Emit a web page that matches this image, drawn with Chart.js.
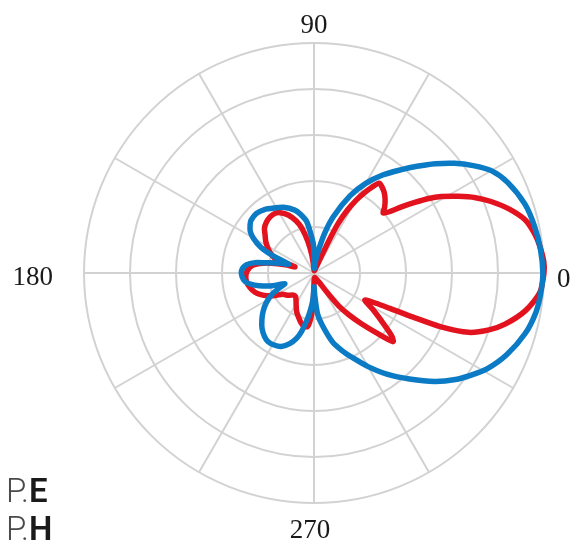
<!DOCTYPE html>
<html><head><meta charset="utf-8">
<script src="https://cdn.jsdelivr.net/npm/chart.js@4"></script>
<style>html,body{margin:0;padding:0;background:#fff;} canvas{display:block}</style>
</head><body>
<canvas id="c" width="571" height="545"></canvas>
<script>
// ---- data (angle in degrees, counter-clockwise from the right; radius 0..1) ----
const seriesLabels = ['P.E', 'P.H'];
const axisTickAngles = [0, 90, 180, 270];
const axisTickLabels = ['0', '90', '180', '270'];

const redAngles = [0,3,7,10,14,18,22,25,28,31,33,35,37,39,41,43,46,49,52,54,56,58,60,62,64,65,66,68,75,85,
  93,97,101,105,109,114,119,123,128,133,138,142,147,152,157,160,162,
  164,167,170,173,178,183,188,193,198,202,206,210,214,218,222,225,
  228,232,236,241,246,251,255,259,263,265,267,269,271,
  280,292,300,304,307,310,313,316,319,321,324,328,332,334,335,336,337,339,342,345,350,355];
const redValues = [1.0,1.0,0.988,0.975,0.948,0.895,0.83,0.775,0.71,0.645,0.595,0.535,0.48,0.425,0.398,0.42,0.445,0.465,0.478,0.483,0.45,0.41,0.365,0.31,0.24,0.17,0.09,0.04,0.015,0.01,
  0.03,0.08,0.14,0.2,0.24,0.276,0.3,0.31,0.31,0.303,0.29,0.27,0.25,0.226,0.2,0.172,0.087,
  0.13,0.19,0.24,0.27,0.29,0.297,0.295,0.285,0.27,0.25,0.225,0.195,0.165,0.155,0.145,0.135,
  0.13,0.13,0.14,0.16,0.185,0.205,0.222,0.235,0.235,0.215,0.17,0.09,0.03,
  0.02,0.03,0.05,0.1,0.18,0.24,0.3,0.37,0.455,0.435,0.372,0.304,0.25,0.3,0.364,0.472,0.596,0.72,0.8,0.86,0.935,0.985];

const blueAngles = [0,6,12,18,25,30,34,38,42,46,50,55,60,65,71,75,79,83,87,
  90,91,94,98,103,107,115,121,128,134,140,143,147,150,154,157,159,161,
  163,165,168,170,173,178,183,187,190,193,197,200,
  203,207,212,217,222,227,232,236,241,246,251,255,258,262,265,268,270,
  272,275,279,285,290,295,300,306,312,318,323,327,331,337,344,350,355];
const blueValues = [0.995,0.99,0.98,0.965,0.93,0.89,0.835,0.775,0.71,0.645,0.585,0.52,0.45,0.37,0.26,0.18,0.1,0.05,0.02,
  0.05,0.12,0.16,0.225,0.262,0.286,0.315,0.33,0.35,0.36,0.357,0.348,0.33,0.305,0.26,0.2,0.14,0.115,
  0.14,0.17,0.215,0.26,0.295,0.315,0.313,0.302,0.28,0.245,0.19,0.135,
  0.16,0.205,0.245,0.277,0.305,0.331,0.35,0.359,0.358,0.35,0.325,0.294,0.26,0.2,0.155,0.11,0.06,
  0.1,0.18,0.23,0.31,0.36,0.41,0.47,0.545,0.62,0.705,0.77,0.815,0.86,0.91,0.955,0.98,0.99];

// ---- build radar table: label index i sits at angle (360 - i) % 360 ----
const angleLabels = Array.from({length: 360}, (_, i) => String((360 - i) % 360));
function toRadarData(angles, values) {
  const d = new Array(360).fill(null);
  angles.forEach((a, k) => { d[(360 - a) % 360] = values[k]; });
  return d;
}

const axisLabelPlugin = {
  id: 'axisLabels',
  afterDraw(chart) {
    const s = chart.scales.r;
    const ctx = chart.ctx;
    const place = [
      {align: 'left',   gap: 13, dx: 0,  dy: 7},
      {align: 'center', gap: 17, dx: 0,  dy: 0},
      {align: 'right',  gap: 31, dx: 0,  dy: 5},
      {align: 'center', gap: 28, dx: -4, dy: 0}
    ];
    ctx.save();
    ctx.font = '27px "Liberation Serif", "DejaVu Serif", serif';
    ctx.fillStyle = '#1a1a1a';
    ctx.textBaseline = 'middle';
    axisTickAngles.forEach((a, k) => {
      const p = s.getPointPosition((360 - a) % 360, s.drawingArea + place[k].gap);
      ctx.textAlign = place[k].align;
      ctx.fillText(axisTickLabels[k], p.x + place[k].dx, p.y + place[k].dy);
    });
    // legend text (no swatches, as in the reference)
    ctx.textAlign = 'left';
    ctx.textBaseline = 'alphabetic';
    chart.data.datasets.map(d => d.label).sort().forEach((lab, k) => {
      const parts = lab.split('.');
      const y = 502 + k * 38;
      ctx.font = '300 33px "Liberation Sans Narrow", Roboto, "Open Sans", sans-serif';
      ctx.fillStyle = '#4a4a4a';
      ctx.fillText(parts[0] + '.', 6, y);
      const w = ctx.measureText(parts[0] + '.').width;
      ctx.font = '600 33px "Liberation Sans Narrow", Roboto, "Open Sans", sans-serif';
      ctx.fillStyle = '#1a1a1a';
      ctx.fillText(parts[1], 6 + w, y);
    });
    ctx.restore();
  }
};

new Chart(document.getElementById('c'), {
  type: 'radar',
  data: {
    labels: angleLabels,
    datasets: [
      { label: seriesLabels[1], data: toRadarData(blueAngles, blueValues), borderColor: '#0a7bc4', order: 0 },
      { label: seriesLabels[0], data: toRadarData(redAngles, redValues), borderColor: '#e2131f', order: 1 }
    ]
  },
  options: {
    responsive: false,
    animation: false,
    devicePixelRatio: 1,
    layout: { padding: { left: 84, right: 27, top: 43, bottom: 42 } },
    elements: {
      line: { borderWidth: 5.5, tension: 0.25, fill: false, spanGaps: true, borderJoinStyle: 'round', borderCapStyle: 'round' },
      point: { radius: 0, hoverRadius: 0 }
    },
    datasets: { radar: { spanGaps: true, clip: false } },
    plugins: { legend: { display: false }, tooltip: { enabled: false } },
    scales: {
      r: {
        min: 0, max: 1,
        startAngle: 90,
        ticks: { display: false, stepSize: 0.2 },
        grid: { color: '#d2d2d2', lineWidth: 2, circular: true },
        angleLines: {
          display: true,
          color: ctx => (ctx.index % 30 === 0 ? '#d2d2d2' : 'rgba(0,0,0,0)'),
          lineWidth: ctx => (ctx.index % 30 === 0 ? 2 : 0)
        },
        pointLabels: { display: false }
      }
    }
  },
  plugins: [axisLabelPlugin]
});
</script>
</body></html>
